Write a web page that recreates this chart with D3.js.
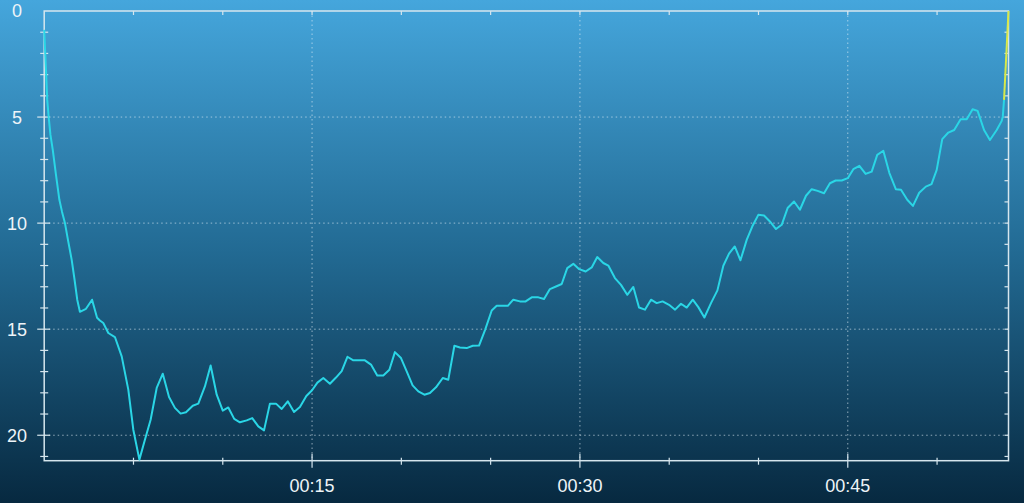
<!DOCTYPE html>
<html><head><meta charset="utf-8">
<script src="https://cdn.jsdelivr.net/npm/d3@7"></script>
<style>html,body{margin:0;padding:0;background:#0a2c45;overflow:hidden} svg{display:block}</style>
</head><body>
<svg id="chart" width="1024" height="503"></svg>
<script>
// elapsed time in minutes
const minutes = [0,0.10,0.17,0.25,0.35,0.48,0.66,0.85,1.00,1.16,1.33,1.54,1.70,1.85,2.00,2.34,2.68,2.96,3.12,3.31,
3.59,3.96,4.34,4.71,4.99,5.33,5.64,5.96,6.30,6.64,6.99,7.32,7.64,7.94,8.32,8.63,9.00,9.32,9.66,10.00,
10.31,10.64,10.96,11.34,11.65,11.99,12.31,12.64,12.98,13.30,13.64,13.99,14.32,14.68,15.00,15.30,15.63,16.00,16.34,16.66,
16.98,17.31,17.64,17.96,18.30,18.65,18.99,19.33,19.64,19.98,20.30,20.63,20.95,21.29,21.60,21.94,22.32,22.63,22.97,23.28,
23.66,24.00,24.35,24.69,25.06,25.34,25.62,25.96,26.27,26.64,26.96,27.30,27.67,27.99,28.32,28.66,28.98,29.29,29.63,29.96,
30.32,30.66,30.97,31.31,31.59,31.96,32.30,32.65,32.99,33.31,33.64,33.98,34.30,34.63,34.99,35.33,35.66,35.98,36.32,36.63,
36.97,37.34,37.70,38.03,38.35,38.67,38.99,39.34,39.65,39.99,40.31,40.64,40.98,41.30,41.63,41.99,42.32,42.66,42.98,43.31,
43.67,44.00,44.32,44.66,45.00,45.31,45.65,46.00,46.34,46.65,46.99,47.33,47.69,47.98,48.33,48.65,49.00,49.37,49.69,49.98,
50.29,50.63,50.96,51.32,51.66,51.99,52.27,52.63,52.96,53.34,53.62,53.68,53.75];
const values = [0.89,2.78,4.19,4.99,5.84,6.55,7.72,8.90,9.47,9.99,10.79,11.73,12.67,13.61,14.18,14.04,13.61,14.46,14.59,14.71,
15.18,15.37,16.28,17.85,19.74,21.15,20.21,19.27,17.77,17.10,18.20,18.71,18.98,18.92,18.61,18.51,17.70,16.71,18.09,18.84,
18.69,19.23,19.39,19.30,19.19,19.58,19.77,18.51,18.51,18.76,18.40,18.90,18.67,18.15,17.88,17.52,17.30,17.57,17.28,16.98,
16.30,16.47,16.47,16.47,16.67,17.18,17.18,16.91,16.08,16.36,16.99,17.65,17.93,18.09,18.01,17.74,17.30,17.38,15.78,15.86,
15.89,15.78,15.77,15.03,14.12,13.90,13.90,13.90,13.61,13.69,13.69,13.50,13.50,13.58,13.11,12.99,12.87,12.12,11.92,12.17,
12.28,12.09,11.60,11.88,12.00,12.59,12.91,13.38,13.01,13.98,14.08,13.61,13.77,13.69,13.85,14.08,13.80,13.98,13.61,13.96,
14.45,13.77,13.17,12.01,11.44,11.10,11.75,10.79,10.16,9.61,9.64,9.92,10.28,10.08,9.29,8.98,9.37,8.71,8.40,8.48,
8.59,8.12,7.99,7.99,7.88,7.46,7.30,7.68,7.57,6.78,6.59,7.64,8.40,8.43,8.90,9.19,8.57,8.28,8.16,7.49,
6.04,5.73,5.61,5.10,5.10,4.63,4.71,5.61,6.08,5.61,5.18,4.98,4.19];
// final segment drawn in yellow
const tailMinutes = [53.75, 54];
const tailValues = [4.19, 0];

const yLabelValues = [0, 5, 10, 15, 20];
const yTickLabels = ["0", "5", "10", "15", "20"];
const xLabelMinutes = [15, 30, 45];
const xTickLabels = ["00:15", "00:30", "00:45"];

const W = 1024, H = 503;
const L = 44.2, R = 1008.5, T = 11, B = 460.7;
const svg = d3.select("#chart");

const defs = svg.append("defs");
const grad = defs.append("linearGradient").attr("id","bg").attr("x1",0).attr("y1",0).attr("x2",0).attr("y2",1);
grad.append("stop").attr("offset","0%").attr("stop-color","#45a6dc");
grad.append("stop").attr("offset","50%").attr("stop-color","#226a93");
grad.append("stop").attr("offset","100%").attr("stop-color","#072940");
svg.append("rect").attr("width",W).attr("height",H).attr("fill","url(#bg)");

const x = d3.scaleLinear().domain([0, 54]).range([L, R]);
const y = d3.scaleLinear().domain([0, 21.2]).range([T, B]);

const axisCol = "#d6e6ee";
const g = svg.append("g");

// grid lines
g.selectAll(".hgrid").data(yLabelValues.filter(v => v > 0)).join("line")
  .attr("x1", L).attr("x2", R).attr("y1", d => y(d)).attr("y2", d => y(d))
  .attr("stroke", "rgba(230,242,250,0.6)").attr("stroke-width", 1).attr("stroke-dasharray", "1.5,3");
g.selectAll(".vgrid").data(xLabelMinutes).join("line")
  .attr("x1", d => x(d)).attr("x2", d => x(d)).attr("y1", T).attr("y2", B)
  .attr("stroke", "rgba(230,242,250,0.6)").attr("stroke-width", 1).attr("stroke-dasharray", "1.5,3");

// frame
g.append("rect").attr("x", L).attr("y", T).attr("width", R - L).attr("height", B - T)
  .attr("fill", "none").attr("stroke", axisCol).attr("stroke-width", 1.5);

// y ticks
const yMinor = d3.range(1, 22);
g.selectAll(".ytl").data(yMinor).join("line")
  .attr("x1", d => d % 5 === 0 ? L - 7 : L - 4).attr("x2", d => d % 5 === 0 ? L + 6 : L + 4)
  .attr("y1", d => y(d)).attr("y2", d => y(d)).attr("stroke", axisCol).attr("stroke-width", 1.2);
g.selectAll(".ytr").data(yMinor).join("line")
  .attr("x1", R - 4).attr("x2", R)
  .attr("y1", d => y(d)).attr("y2", d => y(d)).attr("stroke", axisCol).attr("stroke-width", 1.2);
// x ticks
const xMinor = d3.range(5, 54, 5);
g.selectAll(".xtb").data(xMinor).join("line")
  .attr("x1", d => x(d)).attr("x2", d => x(d))
  .attr("y1", d => d % 15 === 0 ? B - 7 : B - 3).attr("y2", d => d % 15 === 0 ? B + 7 : B + 4)
  .attr("stroke", axisCol).attr("stroke-width", 1.2);
g.selectAll(".xtt").data(xMinor).join("line")
  .attr("x1", d => x(d)).attr("x2", d => x(d)).attr("y1", T).attr("y2", T + 4)
  .attr("stroke", axisCol).attr("stroke-width", 1.2);

// labels
g.selectAll(".ylab").data(yLabelValues).join("text")
  .attr("x", 17).attr("y", d => y(d)).attr("dy", "0.36em").attr("text-anchor", "middle")
  .attr("font-family", "Liberation Sans, Arial, sans-serif").attr("font-size", 18).attr("fill", "#eef4f8")
  .text((d, i) => yTickLabels[i]);
g.selectAll(".xlab").data(xLabelMinutes).join("text")
  .attr("x", d => x(d)).attr("y", 491.5).attr("text-anchor", "middle")
  .attr("font-family", "Liberation Sans, Arial, sans-serif").attr("font-size", 18).attr("fill", "#eef4f8")
  .text((d, i) => xTickLabels[i]);

// series
const pts = minutes.map((m, i) => [m, values[i]]);
const tail = tailMinutes.map((m, i) => [m, tailValues[i]]);
const line = d3.line().x(d => x(d[0])).y(d => y(d[1]));
svg.append("path").datum(pts).attr("d", line).attr("fill", "none")
  .attr("stroke", "#2ad6e6").attr("stroke-width", 2).attr("stroke-linejoin", "round");
svg.append("path").datum(tail).attr("d", line).attr("fill", "none")
  .attr("stroke", "#d8e84a").attr("stroke-width", 2).attr("stroke-linejoin", "round");
</script>
</body></html>
